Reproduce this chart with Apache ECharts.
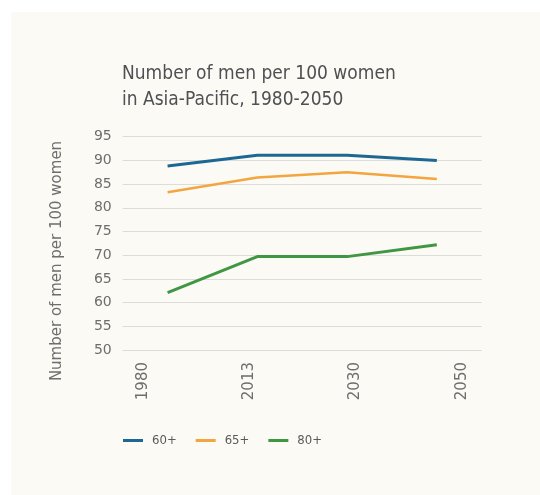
<!DOCTYPE html>
<html>
<head>
<meta charset="utf-8">
<style>
html,body{margin:0;padding:0;background:#ffffff;}
#chart{width:540px;height:495px;}
</style>
<script src="https://cdn.jsdelivr.net/npm/echarts@6/dist/echarts.min.js"></script>
</head>
<body>
<div id="chart"></div>
<script>
const years = ['1980', '2013', '2030', '2050'];
const seriesNames = ['60+', '65+', '80+'];
const men60 = [88.8, 91.1, 91.1, 90.0];
const men65 = [83.3, 86.4, 87.5, 86.1];
const men80 = [62.1, 69.7, 69.7, 72.2];
const yTicks = {min: 50, max: 95, step: 5};
const titleText = 'Number of men per 100 women\nin Asia-Pacific, 1980-2050';
const yName = 'Number of men per 100 women';

const colors = ['#1d6893', '#f3a53f', '#3f9744'];
const narrow = '"Liberation Sans Narrow", "DejaVu Sans Condensed", "Roboto Condensed", "Liberation Sans", sans-serif';

const chart = echarts.init(document.getElementById('chart'));
const gridTop = 136.7, gridBottom = 145;
chart.setOption({
  animation: false,
  backgroundColor: '#ffffff',
  color: colors,
  graphic: [
    {type: 'rect', z: -10, silent: true, shape: {x: 11, y: 12, width: 529, height: 483}, style: {fill: '#fcfaf5'}},
    {type: 'text', x: 57, y: 261, rotation: Math.PI / 2, style: {
      text: yName, fill: '#6e6e6e', font: '15px "DejaVu Sans", sans-serif', align: 'center', verticalAlign: 'middle'}}
  ],
  title: {
    text: titleText,
    left: 117, top: 56,
    textStyle: {fontFamily: narrow, fontSize: 19, fontWeight: 'normal', color: '#4e5054', lineHeight: 26}
  },
  legend: {
    data: seriesNames,
    left: 123, top: 434, padding: 0,
    icon: 'rect', itemWidth: 20, itemHeight: 3, itemGap: 19,
    textStyle: {fontFamily: narrow, fontSize: 13, color: '#5a5a5a', padding: [0, 0, 0, 4]}
  },
  grid: [
    {left: 122.7, right: 58.3, top: gridTop, bottom: gridBottom},
    {left: 143.3, right: 78.3, top: gridTop, bottom: gridBottom}
  ],
  xAxis: [
    {type: 'category', gridIndex: 0, data: years, boundaryGap: true,
     axisLine: {show: false}, axisTick: {show: false}, axisLabel: {show: false}, splitLine: {show: false}},
    {type: 'category', gridIndex: 1, data: years, boundaryGap: false,
     axisLine: {show: false}, axisTick: {show: false}, splitLine: {show: false},
     axisLabel: {rotate: 90, margin: 12, fontSize: 15, color: '#6e6e6e', fontFamily: '"DejaVu Sans", sans-serif'}}
  ],
  yAxis: [
    {type: 'value', gridIndex: 0, min: yTicks.min, max: yTicks.max, interval: yTicks.step,
     axisLine: {show: false}, axisTick: {show: false},
     axisLabel: {margin: 11, fontSize: 14, color: '#6e6e6e', fontFamily: '"DejaVu Sans", sans-serif'},
     splitLine: {lineStyle: {color: '#dcdcdc', width: 1}}},
    {type: 'value', gridIndex: 1, min: yTicks.min, max: yTicks.max, show: false}
  ],
  series: [
    {name: seriesNames[0], type: 'line', data: men60, xAxisIndex: 0, yAxisIndex: 0, symbol: 'none', lineStyle: {width: 3}},
    {name: seriesNames[1], type: 'line', data: men65, xAxisIndex: 0, yAxisIndex: 0, symbol: 'none', lineStyle: {width: 2.5}},
    {name: seriesNames[2], type: 'line', data: men80, xAxisIndex: 0, yAxisIndex: 0, symbol: 'none', lineStyle: {width: 3}}
  ]
});
</script>
</body>
</html>
